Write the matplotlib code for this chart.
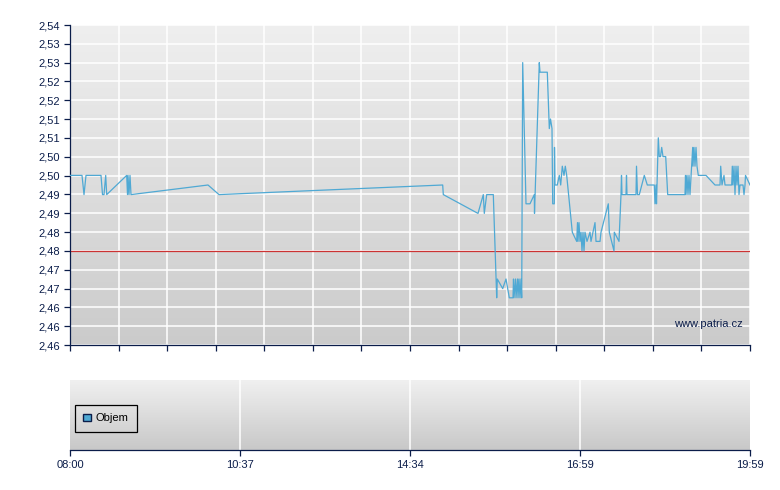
import numpy as np
import matplotlib
matplotlib.use("Agg")
import matplotlib.pyplot as plt
from matplotlib.patches import Patch

plt.rcParams['font.family'] = ['Liberation Sans', 'DejaVu Sans']

# position along the (non-linear) session axis, 0 = 08:00, 680 = 19:59
pos = [0, 12, 14, 16, 31, 32.5, 34, 35.7, 36.7, 56.7, 57.5, 58, 59, 60, 61,
       138, 149, 372.7, 373.3, 408, 413.3, 414.3, 416.7, 423.3, 426.7, 427.3,
       432.7, 436, 439.3, 443, 443.5, 444, 445.5, 446, 447.5, 448, 449, 450,
       451, 451.7, 452.7, 456, 460, 464.3, 464.5, 469.3, 470, 477.3, 479.3,
       480.5, 482, 482.7, 484.3, 484.5, 485, 487.3, 489.3, 490.7, 492.3, 494,
       495.3, 496.7, 502.3, 506.7, 507.5, 508, 509, 510, 511, 512, 513, 514,
       515, 517, 520, 521, 523, 525, 526, 530, 531, 538.3, 539.3, 544, 544.3,
       549, 551, 551.5, 552, 556, 556.5, 557, 566, 566.5, 567.5, 569.3, 574.3,
       577.3, 584.3, 585, 586, 586.5, 588.3, 589.3, 590.5, 591.7, 593, 595.7,
       597.7, 615, 615.5, 616, 617, 618, 619, 620, 622.7, 623, 624, 625, 626,
       627, 628.3, 636, 645, 650, 650.7, 652, 654, 655, 661.7, 662.3, 663, 664,
       665, 666, 667, 668, 669, 670, 673, 674, 675, 675.5, 680]
price = [2.5024, 2.5024, 2.4976, 2.5024, 2.5024, 2.4976, 2.4976, 2.5024, 2.4976,
         2.5024, 2.4976, 2.5024, 2.4976, 2.5024, 2.4976, 2.5000, 2.4976, 2.5000,
         2.4976, 2.4929, 2.4976, 2.4929, 2.4976, 2.4976, 2.4718, 2.4765, 2.4741,
         2.4765, 2.4718, 2.4718, 2.4765, 2.4718, 2.4765, 2.4718, 2.4765, 2.4718,
         2.4765, 2.4718, 2.4765, 2.4718, 2.5306, 2.4953, 2.4953, 2.4976, 2.4929,
         2.5306, 2.5282, 2.5282, 2.5141, 2.5165, 2.5141, 2.4953, 2.4953, 2.5094,
         2.5000, 2.5000, 2.5024, 2.5000, 2.5047, 2.5024, 2.5047, 2.5024, 2.4882,
         2.4859, 2.4906, 2.4859, 2.4906, 2.4859, 2.4882, 2.4835, 2.4882, 2.4835,
         2.4882, 2.4859, 2.4882, 2.4859, 2.4882, 2.4906, 2.4859, 2.4859, 2.4882,
         2.4953, 2.4882, 2.4835, 2.4882, 2.4859, 2.4976, 2.5024, 2.4976, 2.4976,
         2.5024, 2.4976, 2.4976, 2.5047, 2.4976, 2.4976, 2.5024, 2.5000, 2.5000,
         2.4953, 2.5000, 2.4953, 2.5118, 2.5071, 2.5071, 2.5094, 2.5071, 2.5071,
         2.4976, 2.4976, 2.5024, 2.4976, 2.5024, 2.4976, 2.5024, 2.4976, 2.5094,
         2.5047, 2.5094, 2.5047, 2.5094, 2.5047, 2.5024, 2.5024, 2.5000, 2.5000,
         2.5047, 2.5000, 2.5024, 2.5000, 2.5000, 2.5047, 2.5000, 2.5047, 2.4976,
         2.5047, 2.5000, 2.5047, 2.4976, 2.5000, 2.5000, 2.4976, 2.5000, 2.5024,
         2.5000]
prev_close = 2.4835

y_min, y_max = 2.46, 2.54
y_labels = ["2,46", "2,46", "2,46", "2,47", "2,47", "2,48", "2,48", "2,49", "2,49",
            "2,50", "2,50", "2,51", "2,51", "2,52", "2,52", "2,53", "2,53", "2,54"]
time_labels = ["08:00", "10:37", "14:34", "16:59", "19:59"]
session_len = 680

navy = '#0b1d4a'
line_col = '#4fa9d4'
fs = 8

fig = plt.figure(figsize=(7.8, 4.9), dpi=100)
fig.patch.set_facecolor('white')

ax = fig.add_axes([70 / 780, 1 - 345 / 490, 680 / 780, 320 / 490])
axv = fig.add_axes([70 / 780, 1 - 450 / 490, 680 / 780, 70 / 490])


def gradient(a, top, bottom):
    grad = np.linspace(0, 1, 256).reshape(-1, 1)
    cmap = matplotlib.colors.LinearSegmentedColormap.from_list('g', [top, bottom])
    a.imshow(grad, extent=[0, 1, 0, 1], transform=a.transAxes, aspect='auto',
             cmap=cmap, zorder=0, interpolation='bilinear')


# price panel
gradient(ax, '#efefef', '#cbcbcb')
yticks = np.linspace(y_min, y_max, len(y_labels))
xgrid = np.linspace(0, session_len, 15)
for y in yticks:
    ax.axhline(y, color='white', lw=1.1, zorder=1)
for x in xgrid:
    ax.axvline(x, color='white', lw=1.1, zorder=1)
ax.axhline(prev_close, color='#cc3333', lw=0.9, zorder=2)
ax.plot(pos, price, color=line_col, lw=0.9, zorder=3)

ax.set_xlim(0, session_len)
ax.set_ylim(y_min, y_max)
ax.set_yticks(yticks)
ax.set_yticklabels(y_labels)
ax.set_xticks(xgrid)
ax.set_xticklabels([])
ax.tick_params(colors=navy, labelcolor=navy, labelsize=fs, length=4, width=0.9)
for s in ['top', 'right']:
    ax.spines[s].set_visible(False)
for s in ['left', 'bottom']:
    ax.spines[s].set_color(navy)
    ax.spines[s].set_linewidth(0.9)
ax.text(0.99, 0.065, 'www.patria.cz', transform=ax.transAxes, ha='right',
        va='center', color=navy, fontsize=fs, zorder=4)

# volume panel (empty)
gradient(axv, '#f0f0f0', '#c8c8c8')
vticks = np.linspace(0, session_len, len(time_labels))
for x in vticks[1:-1]:
    axv.axvline(x, color='white', lw=1.1, zorder=1)
axv.set_xlim(0, session_len)
axv.set_ylim(0, 1)
axv.set_yticks([])
axv.set_xticks(vticks)
axv.set_xticklabels(time_labels)
axv.tick_params(colors=navy, labelcolor=navy, labelsize=fs, length=4, width=0.9)
for s in ['top', 'right', 'left']:
    axv.spines[s].set_visible(False)
axv.spines['bottom'].set_color(navy)
axv.spines['bottom'].set_linewidth(0.9)
leg = axv.legend(handles=[Patch(facecolor=line_col, edgecolor=navy, label='Objem')],
                 loc='upper left', bbox_to_anchor=(5 / 680, 45 / 70), borderaxespad=0,
                 fontsize=fs, fancybox=False, framealpha=1, handlelength=0.7,
                 handleheight=0.7, handletextpad=0.4, borderpad=0.75)
leg.get_frame().set_edgecolor('black')
leg.get_frame().set_facecolor('none')
leg.get_frame().set_linewidth(0.9)

fig.savefig('out.png', dpi=100)
